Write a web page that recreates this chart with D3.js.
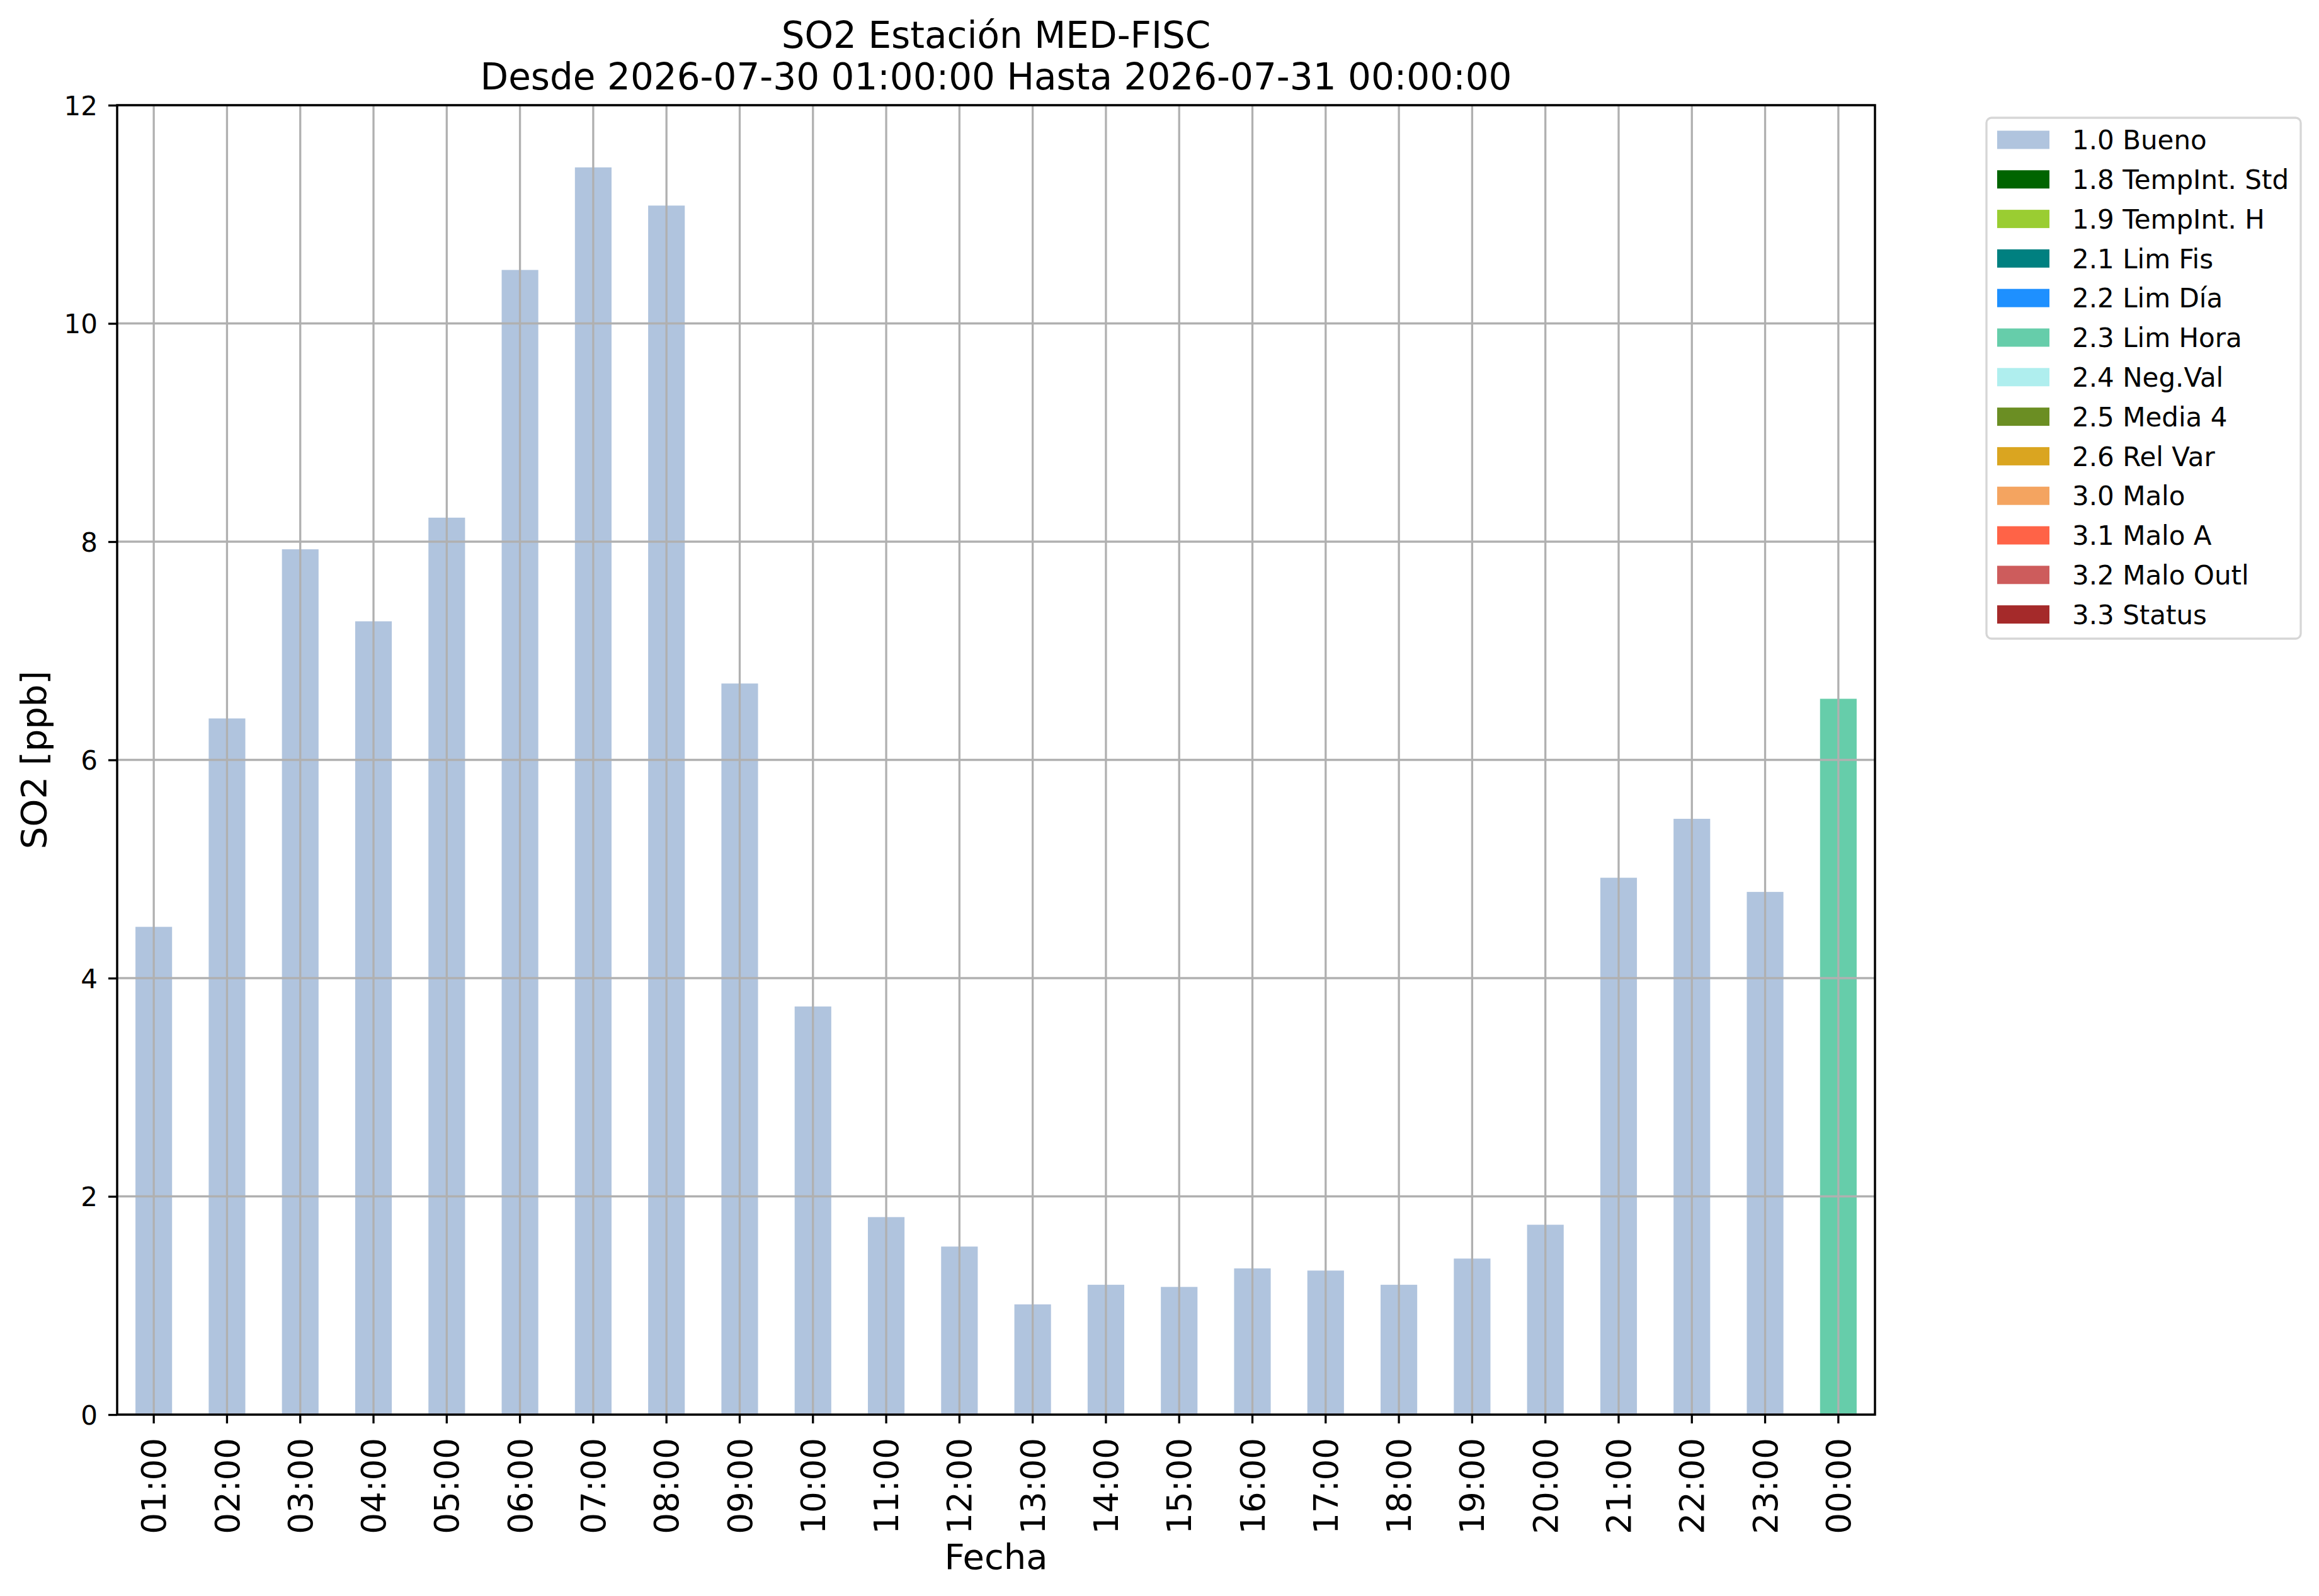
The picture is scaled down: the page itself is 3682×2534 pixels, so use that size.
<!DOCTYPE html>
<html>
<head>
<meta charset="utf-8">
<script src="https://cdn.jsdelivr.net/npm/d3@7"></script>
<style>
  body { margin: 0; background: #fff; }
  text { font-family: "DejaVu Sans", sans-serif; fill: #000; }
</style>
</head>
<body>
<svg id="chart"></svg>
<script>
// hourly SO2 values and the flag of each hour
var hours = ["01:00", "02:00", "03:00", "04:00", "05:00", "06:00", "07:00", "08:00",
    "09:00", "10:00", "11:00", "12:00", "13:00", "14:00", "15:00", "16:00",
    "17:00", "18:00", "19:00", "20:00", "21:00", "22:00", "23:00", "00:00"];
var so2 = [4.47, 6.38, 7.93, 7.27, 8.22, 10.49, 11.43, 11.08,
    6.70, 3.74, 1.81, 1.54, 1.01, 1.19, 1.17, 1.34,
    1.32, 1.19, 1.43, 1.74, 4.92, 5.46, 4.79, 6.56];
var flags = ["1.0", "1.0", "1.0", "1.0", "1.0", "1.0", "1.0", "1.0",
    "1.0", "1.0", "1.0", "1.0", "1.0", "1.0", "1.0", "1.0",
    "1.0", "1.0", "1.0", "1.0", "1.0", "1.0", "1.0", "2.3"];

var flagCodes = ["1.0", "1.8", "1.9", "2.1", "2.2", "2.3", "2.4", "2.5", "2.6", "3.0", "3.1", "3.2", "3.3"];
var flagNames = ["1.0 Bueno", "1.8 TempInt. Std", "1.9 TempInt. H", "2.1 Lim Fis", "2.2 Lim Día",
    "2.3 Lim Hora", "2.4 Neg.Val", "2.5 Media 4", "2.6 Rel Var", "3.0 Malo", "3.1 Malo A",
    "3.2 Malo Outl", "3.3 Status"];
var flagColors = ["#b0c4de", "#006400", "#9acd32", "#008080", "#1e90ff", "#66cdaa", "#afeeee",
    "#6b8e23", "#daa520", "#f4a460", "#ff6347", "#cd5c5c", "#a52a2a"];
var yTicks = [0, 2, 4, 6, 8, 10, 12];

var W = 3682, H = 2534;
var plot = { left: 186, right: 2977, top: 167, bottom: 2246 };

var svg = d3.select("#chart").attr("width", W).attr("height", H);

var x = d3.scaleBand()
    .domain(hours)
    .range([plot.left, plot.right])
    .paddingInner(0.5)
    .paddingOuter(0.25);

var y = d3.scaleLinear()
    .domain([0, 12])
    .range([plot.bottom, plot.top]);

var color = d3.scaleOrdinal().domain(flagCodes).range(flagColors);

var rows = hours.map(function (h, i) {
    return { hour: h, value: so2[i], flag: flags[i] };
});

// bars
svg.append("g")
    .selectAll("rect")
    .data(rows)
    .join("rect")
    .attr("x", function (d) { return x(d.hour); })
    .attr("width", x.bandwidth())
    .attr("y", function (d) { return y(d.value); })
    .attr("height", function (d) { return y(0) - y(d.value); })
    .attr("fill", function (d) { return color(d.flag); });

// grid over the bars
var grid = svg.append("g").attr("stroke", "#b0b0b0").attr("stroke-width", 3.3);
grid.selectAll("line.v")
    .data(hours)
    .join("line")
    .attr("class", "v")
    .attr("x1", function (d) { return x(d) + x.bandwidth() / 2; })
    .attr("x2", function (d) { return x(d) + x.bandwidth() / 2; })
    .attr("y1", plot.top)
    .attr("y2", plot.bottom);
grid.selectAll("line.h")
    .data(yTicks)
    .join("line")
    .attr("class", "h")
    .attr("x1", plot.left)
    .attr("x2", plot.right)
    .attr("y1", function (d) { return y(d); })
    .attr("y2", function (d) { return y(d); });

// axes
var yAxis = svg.append("g")
    .attr("transform", "translate(" + plot.left + ",0)")
    .call(d3.axisLeft(y).tickValues(yTicks).tickSize(14).tickPadding(17).tickFormat(d3.format("d")));
yAxis.select(".domain").remove();
yAxis.selectAll(".tick line").attr("stroke", "#000").attr("stroke-width", 3.3);
yAxis.selectAll(".tick text")
    .attr("font-family", "DejaVu Sans")
    .attr("font-size", 42)
    .attr("dy", "0.36em");

var xAxis = svg.append("g")
    .attr("transform", "translate(0," + plot.bottom + ")")
    .call(d3.axisBottom(x).tickSize(14).tickPadding(0));
xAxis.select(".domain").remove();
xAxis.selectAll(".tick line").attr("stroke", "#000").attr("stroke-width", 3.3);
xAxis.selectAll(".tick text")
    .attr("font-family", "DejaVu Sans")
    .attr("font-size", 53)
    .attr("text-anchor", "end")
    .attr("transform", "translate(0,37) rotate(-90)")
    .attr("x", 0)
    .attr("y", 0)
    .attr("dy", "0.36em");

// frame
svg.append("rect")
    .attr("x", plot.left)
    .attr("y", plot.top)
    .attr("width", plot.right - plot.left)
    .attr("height", plot.bottom - plot.top)
    .attr("fill", "none")
    .attr("stroke", "#000")
    .attr("stroke-width", 3.5);

// titles
var cx = (plot.left + plot.right) / 2;
svg.append("text").attr("x", cx).attr("y", 76).attr("text-anchor", "middle")
    .attr("font-size", 58).text("SO2 Estación MED-FISC");
svg.append("text").attr("x", cx).attr("y", 142).attr("text-anchor", "middle")
    .attr("font-size", 58).text("Desde 2026-07-30 01:00:00 Hasta 2026-07-31 00:00:00");
svg.append("text").attr("x", cx).attr("y", 2491).attr("text-anchor", "middle")
    .attr("font-size", 56).text("Fecha");
svg.append("text")
    .attr("transform", "translate(73," + ((plot.top + plot.bottom) / 2) + ") rotate(-90)")
    .attr("text-anchor", "middle")
    .attr("font-size", 56).text("SO2 [ppb]");

// legend
var legend = svg.append("g").attr("transform", "translate(3154,187)");
legend.append("rect")
    .attr("width", 499)
    .attr("height", 827)
    .attr("rx", 8)
    .attr("fill", "#fff")
    .attr("stroke", "#d6d6d6")
    .attr("stroke-width", 3.3);
var item = legend.selectAll("g.item")
    .data(flagNames)
    .join("g")
    .attr("class", "item")
    .attr("transform", function (d, i) { return "translate(0," + (35 + i * 62.8) + ")"; });
item.append("rect")
    .attr("x", 17)
    .attr("y", -14.5)
    .attr("width", 83)
    .attr("height", 29)
    .attr("fill", function (d, i) { return flagColors[i]; });
item.append("text")
    .attr("x", 136)
    .attr("dy", "0.36em")
    .attr("font-size", 42)
    .text(function (d) { return d; });
</script>
</body>
</html>
